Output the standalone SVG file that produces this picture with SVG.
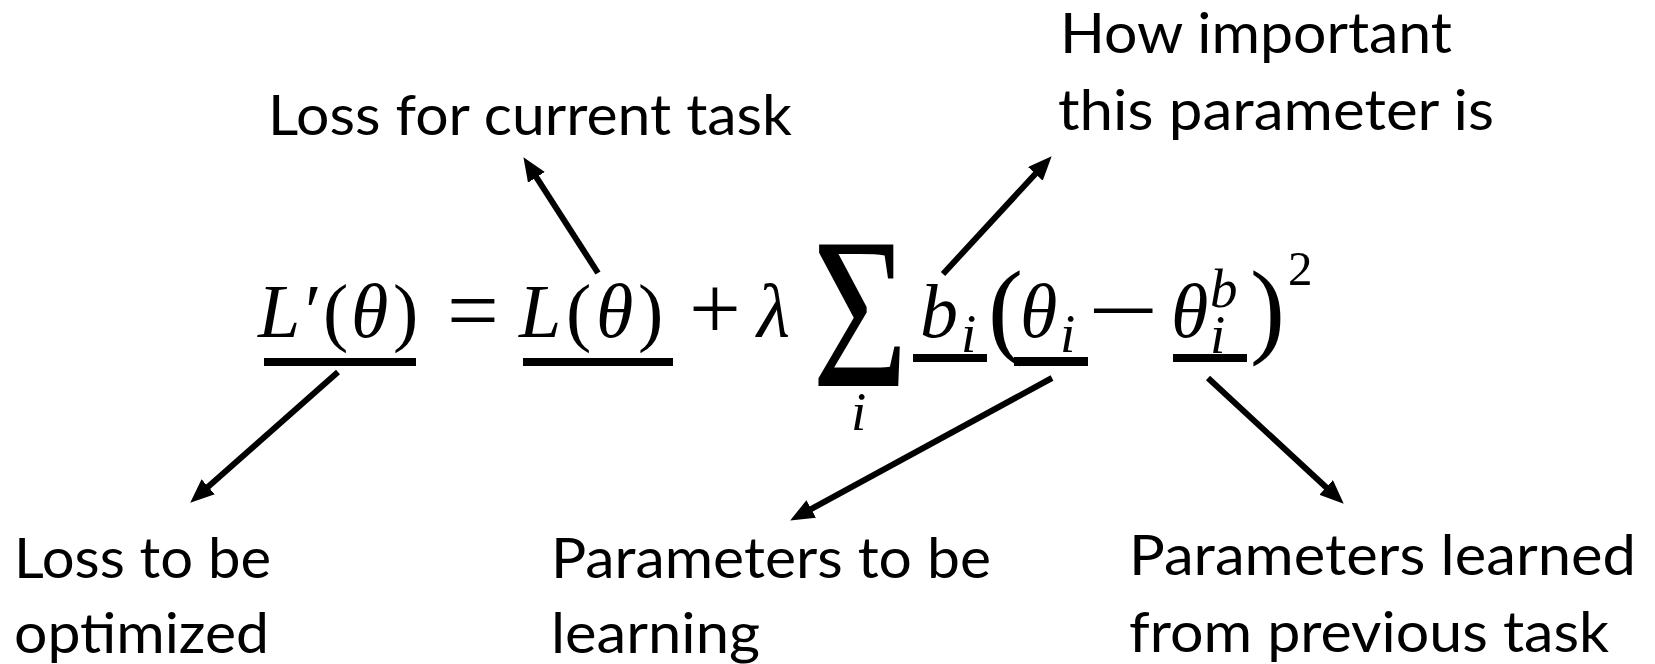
<svg xmlns="http://www.w3.org/2000/svg" width="1655" height="664" viewBox="0 0 1655 664">
<style>
.lbl{font-family:Lato,"Noto Sans",sans-serif;font-size:56px;fill:#000}
.mi{font-family:"Liberation Serif","Times New Roman",serif;font-style:italic;fill:#000}
.mr{font-family:"Liberation Serif","Times New Roman",serif;fill:#000}
.ul{fill:#000}
.conn line{stroke:#000;stroke-width:6;fill:none}
</style>
<defs>
<marker id="ah" viewBox="0 0 24 20" refX="8" refY="10" markerWidth="24" markerHeight="20" markerUnits="userSpaceOnUse" orient="auto">
<path d="M0,0 L24,10 L0,20 z" fill="#000"/>
</marker>
</defs>
<rect width="1655" height="664" fill="#fff"/>

<g id="equation">
<text class="mi" x="258" y="337" font-size="76">L′</text>
<text class="mr" x="323" y="337" font-size="76">(</text>
<text class="mi" x="351" y="337" font-size="76">θ</text>
<text class="mr" x="393" y="337" font-size="76">)</text>
<rect class="ul" x="264" y="358" width="152" height="8"/>
<text class="mr" x="447" y="341" font-size="92">=</text>
<text class="mi" x="519" y="337" font-size="76">L</text>
<text class="mr" x="566" y="337" font-size="76">(</text>
<text class="mi" x="596" y="337" font-size="76">θ</text>
<text class="mr" x="638" y="337" font-size="76">)</text>
<rect class="ul" x="523" y="358" width="150" height="8"/>
<text class="mr" x="689" y="339" font-size="92">+</text>
<text class="mi" x="757" y="337" font-size="76">λ</text>
<text class="mr" transform="translate(812,386) scale(1.65,2.17)" x="0" y="0" font-size="100">Σ</text>
<text class="mi" x="851" y="430" font-size="55">i</text>
<text class="mi" x="920" y="337" font-size="76">b</text>
<text class="mi" x="961" y="352" font-size="55">i</text>
<rect class="ul" x="913" y="354" width="74" height="8"/>
<text class="mr" x="988" y="344" font-size="105">(</text>
<text class="mi" x="1020" y="337" font-size="76">θ</text>
<text class="mi" x="1060" y="352" font-size="55">i</text>
<rect class="ul" x="1014" y="357" width="74" height="9"/>
<text class="mr" transform="translate(1088,340) scale(1.43,1)" x="0" y="0" font-size="88">−</text>
<text class="mi" x="1171" y="337" font-size="76">θ</text>
<text class="mi" x="1210" y="307" font-size="55">b</text>
<text class="mi" x="1210" y="353" font-size="55">i</text>
<rect class="ul" x="1173" y="354" width="74" height="8"/>
<text class="mr" x="1250" y="344" font-size="105">)</text>
<text class="mr" x="1288" y="285" font-size="49">2</text>
</g>

<g id="label-current">
<text class="lbl" x="268" y="135" textLength="524" lengthAdjust="spacingAndGlyphs">Loss for current task</text>
</g>
<g id="label-important">
<text class="lbl" x="1060" y="53" textLength="392" lengthAdjust="spacingAndGlyphs">How important</text>
<text class="lbl" x="1058" y="130" textLength="436" lengthAdjust="spacingAndGlyphs">this parameter is</text>
</g>
<g id="label-optimized">
<text class="lbl" x="14" y="578" textLength="257" lengthAdjust="spacingAndGlyphs">Loss to be</text>
<text class="lbl" x="14" y="653" textLength="255" lengthAdjust="spacingAndGlyphs">optimized</text>
</g>
<g id="label-learning">
<text class="lbl" x="551" y="578" textLength="440" lengthAdjust="spacingAndGlyphs">Parameters to be</text>
<text class="lbl" x="551" y="653" textLength="209" lengthAdjust="spacingAndGlyphs">learning</text>
</g>
<g id="label-previous">
<text class="lbl" x="1129" y="575" textLength="507" lengthAdjust="spacingAndGlyphs">Parameters learned</text>
<text class="lbl" x="1129" y="652" textLength="480" lengthAdjust="spacingAndGlyphs">from previous task</text>
</g>

<g id="connectors" class="conn">
<line x1="598" y1="273" x2="532.1" y2="170.6" marker-end="url(#ah)"/>
<line x1="943" y1="274" x2="1040.8" y2="168" marker-end="url(#ah)"/>
<line x1="338" y1="372" x2="202.2" y2="492.1" marker-end="url(#ah)"/>
<line x1="1052" y1="378" x2="804.2" y2="512.8" marker-end="url(#ah)"/>
<line x1="1208" y1="378" x2="1332" y2="492.8" marker-end="url(#ah)"/>
</g>
</svg>
